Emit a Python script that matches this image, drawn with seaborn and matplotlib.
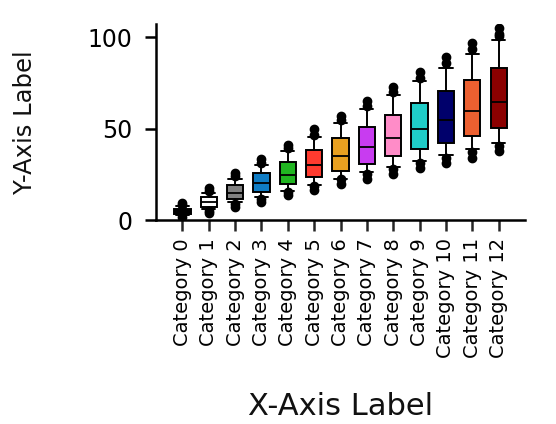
import matplotlib
matplotlib.use("Agg")
import matplotlib.pyplot as plt
import seaborn as sns

# box statistics
categories = [f"Category {i}" for i in range(13)]
q1 = [3.3, 7.3, 11.3, 15.3, 19.5, 23.4, 27.0, 30.9, 34.9, 38.7, 42.4, 46.2, 50.6]
medians = [4.9, 9.7, 14.8, 20.1, 24.6, 29.9, 35.0, 39.8, 44.9, 49.8, 55.0, 59.7, 64.8]
q3 = [6.2, 12.8, 19.2, 25.6, 31.9, 38.2, 44.7, 51.1, 57.5, 63.9, 70.5, 76.7, 83.1]
whis_lo = [3.0, 6.2, 9.9, 12.6, 16.1, 19.3, 22.6, 26.1, 29.0, 32.5, 35.4, 38.7, 42.2]
whis_hi = [7.7, 14.8, 22.5, 30.3, 38.0, 45.6, 53.3, 60.6, 68.3, 75.9, 83.1, 90.9, 98.6]
outliers = [
    [9.5, 8.2, 1.8],
    [17.3, 16.0, 5.1, 4.0],
    [25.6, 24.3, 8.8, 7.3],
    [33.2, 31.4, 11.7, 10.0],
    [41.0, 39.2, 15.3, 13.7],
    [49.7, 46.5, 18.8, 16.4],
    [57.1, 54.8, 22.3, 19.5],
    [65.4, 62.4, 25.2, 22.5],
    [73.0, 70.1, 27.9, 25.2],
    [80.9, 77.8, 31.4, 28.5],
    [89.1, 85.8, 34.1, 31.4],
    [97.1, 93.5, 37.1, 34.1],
    [105.0, 101.9, 100.8, 40.5, 37.8],
]
box_colors = ["#000000", "#ffffff", "#808080", "#0f7cc4", "#21b521", "#ff3b2f",
              "#e8a020", "#c83cf0", "#ff8cc8", "#1fcdc8", "#00006b", "#ec6030", "#8b0000"]

sns.set_theme(style="ticks")
plt.rcParams["font.family"] = ["DejaVu Sans"]

fig = plt.figure(figsize=(5.56, 4.24), dpi=100)
ax = fig.add_axes([0.2806, 0.481, 0.6637, 0.462])

stats = []
for i, name in enumerate(categories):
    stats.append({"label": name, "q1": q1[i], "med": medians[i], "q3": q3[i],
                  "whislo": whis_lo[i], "whishi": whis_hi[i], "fliers": outliers[i]})

bp = ax.bxp(stats, positions=range(len(categories)), widths=0.62, capwidths=0.5,
            patch_artist=True,
            boxprops=dict(linewidth=1.4, edgecolor="black"),
            medianprops=dict(color="black", linewidth=1.3),
            whiskerprops=dict(color="black", linewidth=1.4),
            capprops=dict(color="black", linewidth=1.4),
            flierprops=dict(marker="o", markerfacecolor="black", markeredgecolor="black",
                            markersize=6))
for patch, c in zip(bp["boxes"], box_colors):
    patch.set_facecolor(c)

ax.set_xlim(-1, 13)
ax.set_ylim(0, 107.3)
ax.set_yticks([0, 50, 100])
ax.set_xticks(range(len(categories)))
ax.set_xticklabels(categories, rotation=90, fontsize=14, color="black")
ax.tick_params(axis="y", labelsize=17, colors="black", length=8, width=1.8, pad=9)
ax.tick_params(axis="x", length=8, width=1.8, pad=5)
for side in ["top", "right"]:
    ax.spines[side].set_visible(False)
for side in ["left", "bottom"]:
    ax.spines[side].set_linewidth(1.8)
    ax.spines[side].set_color("black")

fig.text(0.612, 0.021, "X-Axis Label", fontsize=22, ha="center", va="baseline", color="#111111")
fig.text(0.045, 0.713, "Y-Axis Label", fontsize=17.5, ha="center", va="center",
         rotation=90, color="#111111")

fig.savefig("out.png", dpi=100)
